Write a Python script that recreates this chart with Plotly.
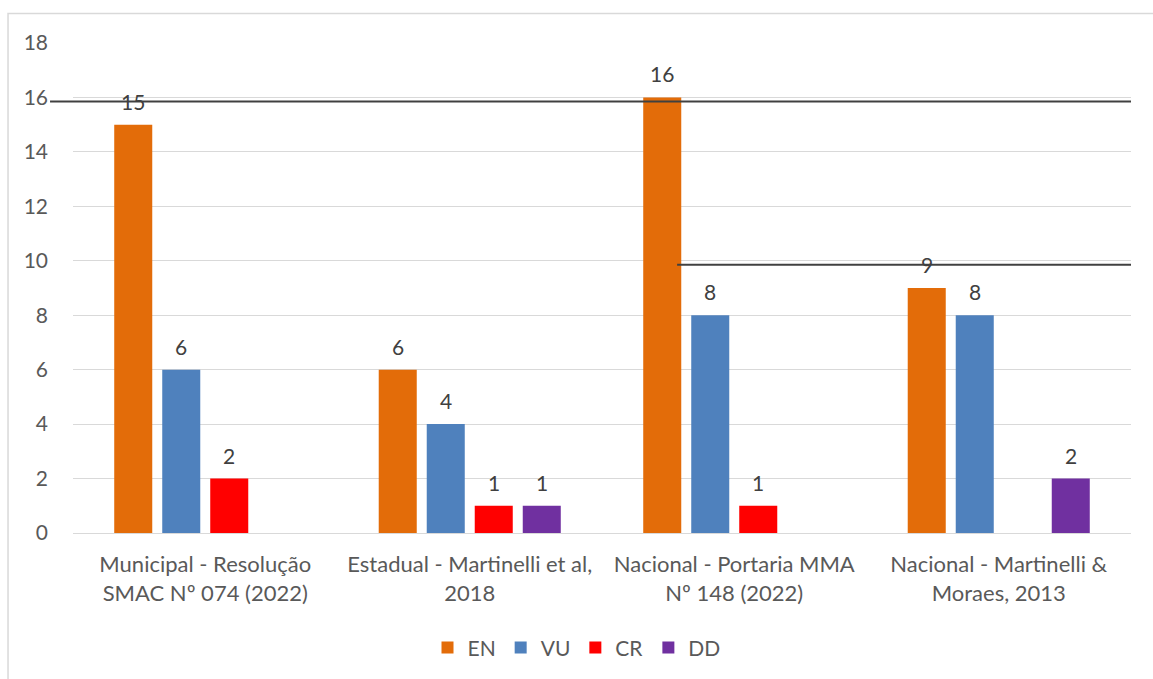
import plotly.graph_objects as go

categories = [
    "Municipal - Resolução<br>SMAC Nº 074 (2022)",
    "Estadual - Martinelli et al,<br>2018",
    "Nacional - Portaria MMA<br>Nº 148 (2022)",
    "Nacional - Martinelli &<br>Moraes, 2013",
]
series_names = ["EN", "VU", "CR", "DD"]
en_values = [15, 6, 16, 9]
vu_values = [6, 4, 8, 8]
cr_values = [2, 1, 1, None]
dd_values = [None, 1, None, 2]
colors = ["#E36C09", "#4F81BD", "#FF0000", "#7030A0"]
y_ticks = [0, 2, 4, 6, 8, 10, 12, 14, 16, 18]
ref_lines = [15.85, 9.85]  # black horizontal lines drawn on the original

FONT = "Lato, 'Open Sans', sans-serif"
TXT = "#595959"

W, H = 1153, 679
ML, MR, MT, MB = 73, 22, 43, 146
BARGAP, GROUPGAP = 0.274, 0.208
plot_w = W - ML - MR
slot_px = (1 - BARGAP) * plot_w / len(categories) / len(series_names)

all_values = [en_values, vu_values, cr_values, dd_values]

fig = go.Figure()
for name, vals, col in zip(series_names, all_values, colors):
    fig.add_trace(go.Bar(name=name, x=categories, y=vals, marker_color=col,
                         marker_line_width=0))

annotations = []
for i, vals in enumerate(all_values):
    for cat, v in zip(categories, vals):
        if v is None:
            continue
        annotations.append(dict(
            x=cat, y=v, xref="x", yref="y", text=str(v), showarrow=False,
            xanchor="center", yanchor="bottom", yshift=9,
            xshift=(i - (len(series_names) - 1) / 2) * slot_px,
            font=dict(family=FONT, size=21, color="#404040")))

fig.update_layout(
    width=W, height=H,
    paper_bgcolor="white", plot_bgcolor="white",
    margin=dict(l=ML, r=MR, t=MT, b=MB),
    barmode="group", bargap=BARGAP, bargroupgap=GROUPGAP,
    font=dict(family=FONT, size=21, color=TXT),
    showlegend=True,
    legend=dict(orientation="h", xref="container", yref="container",
                x=0.5, xanchor="center", y=0.046, yanchor="middle",
                font=dict(family=FONT, size=21, color=TXT),
                itemwidth=30, tracegroupgap=0),
    xaxis=dict(showgrid=False, showline=False, ticks="", ticklabelstandoff=16,
               tickfont=dict(family=FONT, size=22, color=TXT)),
    yaxis=dict(range=[0, 18], tickvals=y_ticks, showgrid=True, gridcolor="#D9D9D9",
               gridwidth=1, zeroline=True, zerolinecolor="#D9D9D9", zerolinewidth=1,
               showline=False, ticks="", ticklabelstandoff=24,
               tickfont=dict(family=FONT, size=21, color=TXT)),
    annotations=annotations,
)

# outer chart border
fig.add_shape(type="rect", xref="paper", yref="paper",
              x0=-0.0614, x1=1.06, y0=-0.32, y1=1.0602,
              line=dict(color="#D9D9D9", width=1.5), layer="below")
# black horizontal lines present on the original image
fig.add_shape(type="line", xref="paper", yref="y", x0=-0.0217, x1=1.0,
              y0=ref_lines[0], y1=ref_lines[0], line=dict(color="#404040", width=2))
fig.add_shape(type="line", xref="paper", yref="y", x0=0.571, x1=1.0,
              y0=ref_lines[1], y1=ref_lines[1], line=dict(color="#404040", width=2))

fig.write_html("out.html",
               config={"displayModeBar": False},
               post_script="document.body.style.margin='0';"
                           "document.documentElement.style.overflow='hidden';")
